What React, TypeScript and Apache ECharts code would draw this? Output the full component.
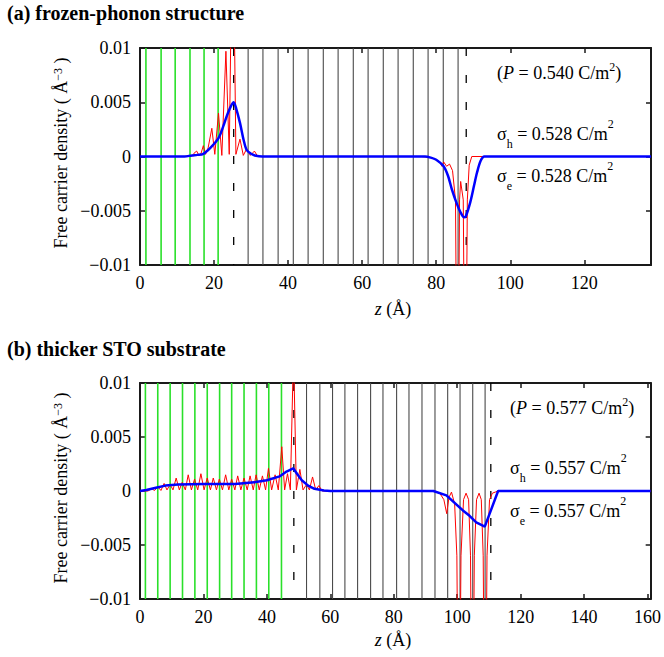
import React, { useEffect, useRef } from 'react';
import * as echarts from 'echarts';

const FONT = 'Liberation Serif';

// x-axis extents
const xMaxA = 138;
const xMaxB = 161;
const xTickStep = 20;
const yTickStep = 0.005;

// layer positions (z in Å)
const greenA = [1.6, 5.7, 9.5, 13.5, 17.3, 21.1];
const blackA = [29.2, 33.2, 37.3, 41.4, 45.4, 49.5, 53.5, 57.6, 61.6, 65.7, 69.7, 73.8, 77.8, 81.9, 85.9];
const dashedA = [25.3, 88.1];

const greenB = [1.7, 5.6, 9.5, 13.4, 17.3, 21.2, 25.1, 28.9, 32.8, 36.7, 40.6, 44.6];
const blackB = [52.5, 56.7, 60.7, 64.6, 68.6, 72.7, 76.6, 80.9, 84.8, 88.9, 93.0, 97.0, 100.9, 104.9, 108.8];
const dashedB = [48.5, 110.6];

// panel (a) densities
const redA: [number, number][] = [
  [0, 0], [12, 0], [13.2, 0.0001], [14.0, 0.00005], [14.6, 0.0003], [15.3, 0.0005], [15.9, 0.0001],
  [16.5, 0.0003], [17.1, 0.001], [17.7, 0.0002], [18.4, 0.0008], [19.4, 0.0026], [20.2, 0.0002],
  [21.2, 0.004], [22.1, 0.0001], [23.2, 0.0097], [24.1, 0.0002], [25.05, 0.025], [25.9, 0.0002],
  [27.0, 0.0016], [27.9, 0.0001], [28.8, 0.0007], [29.8, 0.0001], [30.9, 0.0005], [31.8, 0], [33, 0],
  [76, 0], [78.5, -0.0001], [80.0, -0.0003], [81.0, -0.0005], [81.5, -0.0009], [82.0, -0.0005],
  [82.8, -0.0009], [83.6, -0.0007], [84.4, -0.0013], [85.2, -0.004], [85.75, -0.03], [86.3, -0.004],
  [86.6, -0.0023], [87.3, -0.004], [87.85, -0.03], [88.4, -0.004], [88.9, -0.0008], [89.6, 0], [138, 0],
];
const blueA: [number, number][] = [
  [0, 0], [12, 0], [14, 0.0001], [15.5, 0.00015], [17.1, 0.00025], [19, 0.0008], [21.2, 0.0017],
  [22.5, 0.0028], [23.4, 0.0037], [24.5, 0.0046], [25.3, 0.005], [26, 0.0044], [27, 0.0031],
  [28, 0.0015], [28.8, 0.0006], [30, 0.00025], [31, 0.0001], [33, 0], [77, 0], [78.5, -0.0001],
  [80, -0.0003], [82, -0.0009], [83.2, -0.0018], [84.2, -0.003], [85.5, -0.0043], [86.5, -0.0051],
  [87.5, -0.0056], [88.0, -0.0055], [89.2, -0.0042], [90.2, -0.0027], [91, -0.0015], [92, -0.0004],
  [93, 0], [138, 0],
];

// panel (b) densities
const redB: [number, number][] = [
  [0, 0], [2.5, 0], [3.7, 0.0002], [4.6, 0.00005], [5.6, 0.0004], [6.6, 0.00005], [7.6, 0.0007],
  [8.5, 0.0001], [9.5, 0.0006], [10.4, 0.0001], [11.4, 0.0012], [12.4, 0.0001], [13.3, 0.0008],
  [14.3, 0.0001], [15.2, 0.0015], [16.2, 0.0001], [17.2, 0.0011], [18.2, 0.0001], [19.2, 0.0016],
  [20.2, 0.0001], [21.2, 0.0012], [22.2, 0.0001], [23.1, 0.0012], [24.1, 0.0001], [25.0, 0.0011],
  [26.0, 0.0001], [27.0, 0.0015], [28.0, 0.0001], [28.9, 0.0011], [29.9, 0.0001], [30.8, 0.0014],
  [31.8, 0.0001], [32.8, 0.0012], [33.8, 0.0001], [34.7, 0.0014], [35.7, 0.0001], [36.6, 0.0015],
  [37.6, 0.0001], [38.6, 0.0014], [39.6, 0.0001], [40.5, 0.0021], [41.5, 0.0001], [42.6, 0.0015],
  [43.6, 0.0001], [44.7, 0.0041], [45.6, 0.0001], [46.5, 0.0016], [47.4, 0.0001], [48.4, 0.013],
  [49.3, 0.0001], [50.4, 0.002], [51.4, 0.0001], [52.5, 0.0006], [53.4, 0.0001], [54.4, 0.0013],
  [55.4, 0.0001], [56.4, 0.0005], [57.4, 0], [92.5, 0], [94.5, -0.0002], [95.8, -0.0008],
  [96.7, -0.0021], [97.4, -0.0006], [98.2, -0.0001], [99.2, -0.0012], [99.9, -0.006], [100.55, -0.03],
  [101.2, -0.006], [102.0, -0.0008], [102.8, -0.0002], [103.6, -0.0008], [104.2, -0.006], [104.8, -0.03],
  [105.4, -0.006], [106.1, -0.0008], [106.9, -0.0002], [107.6, -0.0008], [108.2, -0.006], [108.8, -0.03],
  [109.4, -0.006], [110.2, -0.0008], [111.1, -0.0002], [112.0, -0.0001], [112.8, 0], [161, 0],
];
const blueB: [number, number][] = [
  [0, 0], [2, 0.0001], [5, 0.0003], [8, 0.0005], [12, 0.0006], [20, 0.00065], [30, 0.00065],
  [36, 0.0008], [40, 0.001], [44, 0.00135], [46.2, 0.0018], [48.3, 0.0021], [49.5, 0.0016],
  [51, 0.001], [53, 0.0005], [55, 0.0002], [58, 0.00005], [60, 0], [92.5, 0], [96.6, -0.0004],
  [101.8, -0.0018], [103.9, -0.0023], [106, -0.0029], [108.7, -0.0033], [112.9, 0], [161, 0],
];

const titles = ['(a) frozen-phonon structure', '(b) thicker STO substrate'];
const polA = ['0.540', '0.528', '0.528'];
const polB = ['0.577', '0.557', '0.557'];

const AXIS_COLOR = '#1a1a1a';

function xAxes(grid: number, max: number) {
  const common: any = {
    type: 'value', gridIndex: grid, min: 0, max, interval: xTickStep,
    splitLine: { show: false },
    axisLine: { onZero: false, lineStyle: { color: AXIS_COLOR, width: 2 } },
    axisTick: { inside: true, length: 5, lineStyle: { color: AXIS_COLOR, width: 1.5 } },
  };
  return [
    {
      ...common, position: 'bottom',
      axisLabel: {
        color: '#000', fontFamily: FONT, fontSize: 18, margin: 9,
        formatter: (v: number) => (Math.abs(v % xTickStep) < 1e-9 ? String(v) : ''),
      },
    },
    { ...common, position: 'top', axisLabel: { show: false } },
  ];
}

function yAxes(grid: number) {
  const common: any = {
    type: 'value', gridIndex: grid, min: -0.01, max: 0.01, interval: yTickStep,
    splitLine: { show: false },
    axisLine: { onZero: false, lineStyle: { color: AXIS_COLOR, width: 2 } },
    axisTick: { inside: true, length: 5, lineStyle: { color: AXIS_COLOR, width: 1.5 } },
  };
  return [
    {
      ...common, position: 'left',
      axisLabel: {
        color: '#000', fontFamily: FONT, fontSize: 18, margin: 9,
        formatter: (v: number) => String(+v.toFixed(4)).replace('-', '\u2212'),
      },
    },
    { ...common, position: 'right', axisLabel: { show: false } },
  ];
}

// vertical layer lines drawn through the axes' own scale
function layerSeries(xi: number, yi: number, positions: number[], stroke: string, width: number, dash: number[] | null) {
  return {
    type: 'custom', xAxisIndex: xi, yAxisIndex: yi, z: 1, silent: true, clip: true,
    data: positions.map((p) => [p, 0]),
    encode: { x: 0, y: 1 },
    renderItem: (params: any, api: any) => {
      const x = api.coord([api.value(0), 0])[0];
      const cs = params.coordSys;
      return {
        type: 'line',
        shape: { x1: x, y1: cs.y, x2: x, y2: cs.y + cs.height },
        style: { stroke, lineWidth: width, lineDash: dash || undefined, fill: null },
      };
    },
  };
}

function curve(xi: number, yi: number, data: [number, number][], color: string, width: number, z: number, smooth: number | boolean) {
  return {
    type: 'line', xAxisIndex: xi, yAxisIndex: yi, z, data, showSymbol: false, smooth,
    lineStyle: { color, width }, itemStyle: { color }, clip: true, silent: true,
  };
}

const rich: any = {
  n: { fontFamily: FONT, fontSize: 18, lineHeight: 24, verticalAlign: 'middle', fill: '#000' },
  i: { fontFamily: FONT, fontSize: 18, lineHeight: 24, verticalAlign: 'middle', fontStyle: 'italic', fill: '#000' },
  sup: { fontFamily: FONT, fontSize: 12, lineHeight: 13, verticalAlign: 'top', fill: '#000' },
  sub: { fontFamily: FONT, fontSize: 12, lineHeight: 12, verticalAlign: 'bottom', fill: '#000' },
  ns: { fontFamily: FONT, fontSize: 18, lineHeight: 32, verticalAlign: 'middle', fill: '#000' },
};

function textEl(x: number, y: number, text: string, extra: any = {}) {
  return {
    type: 'text', x, y, silent: true, ...extra,
    style: { text, rich, fontFamily: FONT, fontSize: 18, fill: '#000', align: 'left', verticalAlign: 'middle', ...(extra.style || {}) },
  };
}

function annotations(x: number, yP: number, yH: number, yE: number, vals: string[]) {
  return [
    textEl(x, yP, `{n|(}{i|P}{n| = ${vals[0]} C/m}{sup|2}{n|)}`),
    textEl(x, yH, `{ns|\u03c3}{sub|h}{ns| = ${vals[1]} C/m}{sup|2}`),
    textEl(x, yE, `{ns|\u03c3}{sub|e}{ns| = ${vals[2]} C/m}{sup|2}`),
  ];
}

const option: any = {
  animation: false,
  backgroundColor: '#fff',
  grid: [
    { left: 140, top: 48, width: 511, height: 217 },
    { left: 140, top: 383, width: 511, height: 216 },
  ],
  xAxis: [...xAxes(0, xMaxA), ...xAxes(1, xMaxB)],
  yAxis: [...yAxes(0), ...yAxes(1)],
  series: [
    layerSeries(0, 0, greenA, '#2ae02a', 1.6, null),
    layerSeries(0, 0, blackA, '#4a4a4a', 1.1, null),
    layerSeries(0, 0, dashedA, '#000000', 1.3, [8, 19]),
    curve(0, 0, redA, '#ff0000', 1, 2, false),
    curve(0, 0, blueA, '#0000ff', 2.5, 3, 0.3),
    layerSeries(2, 2, greenB, '#2ae02a', 1.6, null),
    layerSeries(2, 2, blackB, '#4a4a4a', 1.1, null),
    layerSeries(2, 2, dashedB, '#000000', 1.3, [8, 19]),
    curve(2, 2, redB, '#ff0000', 1, 2, false),
    curve(2, 2, blueB, '#0000ff', 2.5, 3, false),
  ],
  graphic: [
    { type: 'text', x: 7, y: 13, silent: true, style: { text: titles[0], fontFamily: FONT, fontSize: 20, fontWeight: 'bold', fill: '#000', verticalAlign: 'middle' } },
    { type: 'text', x: 7, y: 349, silent: true, style: { text: titles[1], fontFamily: FONT, fontSize: 20, fontWeight: 'bold', fill: '#000', verticalAlign: 'middle' } },
    textEl(61, 153, 'Free carrier density ( \u00c5{sup|\u22123} )', { rotation: Math.PI / 2, style: { align: 'center' } }),
    textEl(61, 488, 'Free carrier density ( \u00c5{sup|\u22123} )', { rotation: Math.PI / 2, style: { align: 'center' } }),
    textEl(393, 309, '{i|z}{n| (\u00c5)}', { style: { align: 'center' } }),
    textEl(393, 640, '{i|z}{n| (\u00c5)}', { style: { align: 'center' } }),
    ...annotations(497, 73, 134, 176, polA),
    ...annotations(510, 408, 468, 511, polB),
  ],
};

export default function App() {
  const ref = useRef<HTMLDivElement>(null);
  useEffect(() => {
    document.body.style.margin = '0';
    const chart = echarts.init(ref.current as HTMLDivElement, null, { renderer: 'svg' });
    chart.setOption(option);
    return () => chart.dispose();
  }, []);
  return <div ref={ref} style={{ width: 664, height: 657 }} />;
}
